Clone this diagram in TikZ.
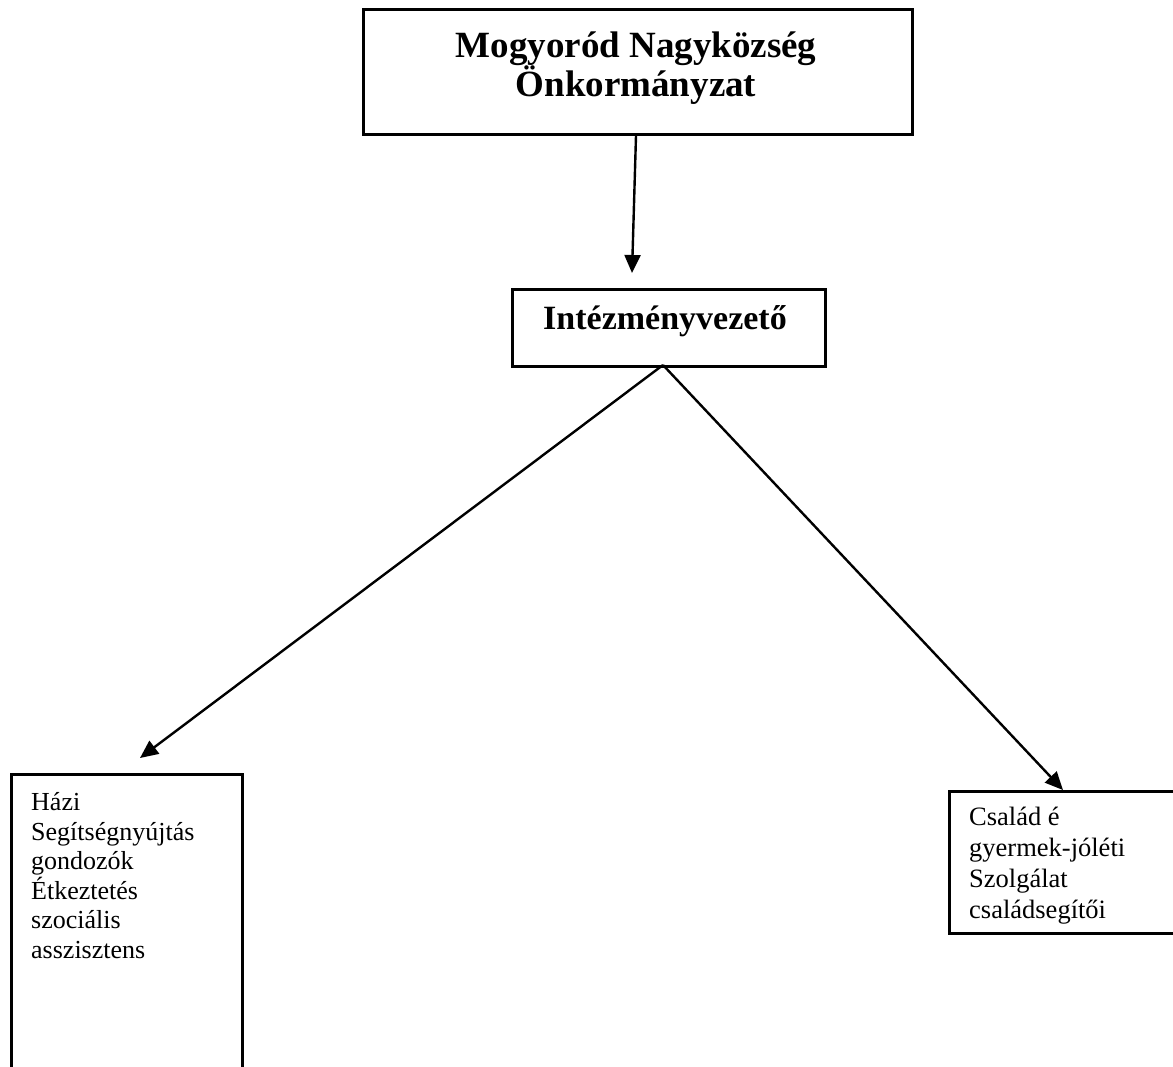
\documentclass[tikz,border=0pt]{standalone}
\usepackage{fontspec}
\setmainfont{Liberation Serif}
\usetikzlibrary{arrows.meta}
\begin{document}
\begin{tikzpicture}[x=1pt,y=-1pt,
  box/.style={draw,line width=2.6pt,inner sep=0pt},
  arr/.style={line width=2.4pt,-{Triangle[length=18pt,width=16pt]}},
  txt/.style={inner sep=0pt,align=left,anchor=base west,font=\fontsize{26}{29.5}\selectfont}]
\useasboundingbox (0,0) rectangle (1173,1066);
\fill[white] (0,0) rectangle (1173,1066);
\node[box,anchor=north west,minimum width=549pt,minimum height=125pt] (top) at (362,8) {};
\node[inner sep=0pt,align=center,anchor=base,font=\fontsize{37}{39}\selectfont\bfseries] (toptxt) at (636,96) {Mogyoród Nagyközség\\Önkormányzat};
\node[box,anchor=north west,minimum width=313pt,minimum height=77pt] (mid) at (511,288) {};
\node[inner sep=0pt,anchor=base,font=\fontsize{34}{36}\selectfont\bfseries] (midtxt) at (665,329) {Intézményvezető};
\node[box,anchor=north west,minimum width=231pt,minimum height=340pt] (lb) at (10,773) {};
\node[txt] (lbt) at (31,958) {Házi\\Segítségnyújtás\\gondozók\\Étkeztetés\\szociális\\asszisztens};
\node[box,anchor=north west,minimum width=260pt,minimum height=142pt] (rb) at (948,790) {};
\node[txt,font=\fontsize{26.5}{31}\selectfont] (rbt) at (969,918) {Család é\\gyermek-jóléti\\Szolgálat\\családsegítői};
\coordinate (apex) at (663,365);
\coordinate (ltip) at (140,758);
\coordinate (rtip) at (1063,790);
\draw[arr] (top.south -| 636,0) -- (632,273);
\draw[arr] (apex) -- (ltip);
\draw[arr] (apex) -- (rtip);
\end{tikzpicture}
\end{document}
